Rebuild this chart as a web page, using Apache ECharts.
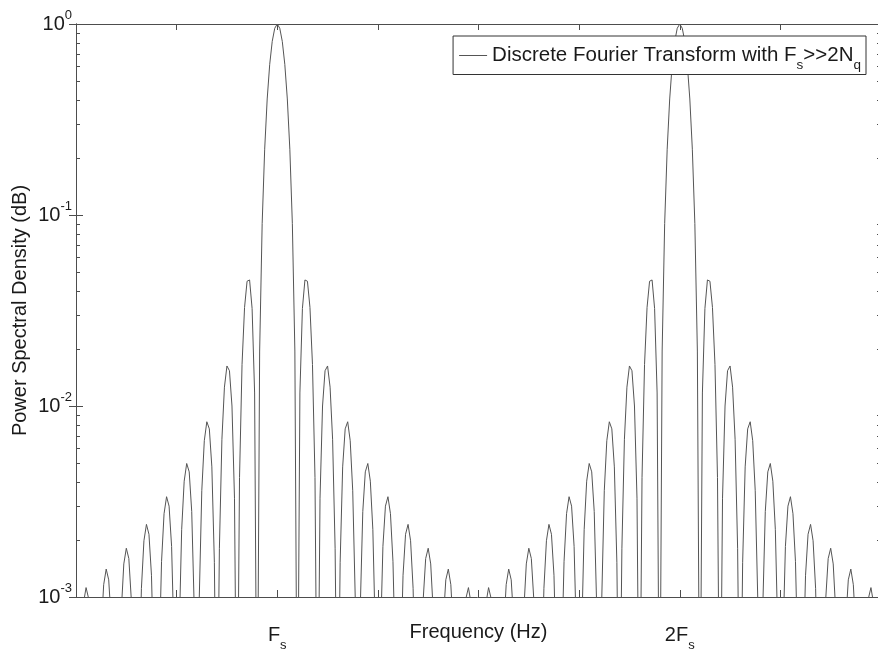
<!DOCTYPE html>
<html><head><meta charset="utf-8">
<script src="https://cdn.jsdelivr.net/npm/echarts@6/dist/echarts.min.js"></script>
<style>html,body{margin:0;padding:0;background:#fff}#c{width:878px;height:655px}</style>
</head><body><div id="c"></div>
<script>
// Frequency samples (axis units: Fs = 2, 2Fs = 6)
const freq = [
  0, 0.025, 0.05, 0.075, 0.1, 0.125, 0.15, 0.175,
  0.2, 0.225, 0.25, 0.275, 0.3, 0.325, 0.35, 0.375,
  0.4, 0.425, 0.45, 0.475, 0.5, 0.525, 0.55, 0.575,
  0.6, 0.625, 0.65, 0.675, 0.7, 0.725, 0.75, 0.775,
  0.8, 0.825, 0.85, 0.875, 0.9, 0.925, 0.95, 0.975,
  1.0, 1.025, 1.05, 1.075, 1.1, 1.125, 1.15, 1.175,
  1.2, 1.225, 1.25, 1.275, 1.3, 1.325, 1.35, 1.375,
  1.4, 1.425, 1.45, 1.475, 1.5, 1.525, 1.55, 1.575,
  1.6, 1.625, 1.65, 1.675, 1.7, 1.725, 1.75, 1.775,
  1.8, 1.825, 1.85, 1.875, 1.9, 1.925, 1.95, 1.975,
  2.0, 2.025, 2.05, 2.075, 2.1, 2.125, 2.15, 2.175,
  2.2, 2.225, 2.25, 2.275, 2.3, 2.325, 2.35, 2.375,
  2.4, 2.425, 2.45, 2.475, 2.5, 2.525, 2.55, 2.575,
  2.6, 2.625, 2.65, 2.675, 2.7, 2.725, 2.75, 2.775,
  2.8, 2.825, 2.85, 2.875, 2.9, 2.925, 2.95, 2.975,
  3.0, 3.025, 3.05, 3.075, 3.1, 3.125, 3.15, 3.175,
  3.2, 3.225, 3.25, 3.275, 3.3, 3.325, 3.35, 3.375,
  3.4, 3.425, 3.45, 3.475, 3.5, 3.525, 3.55, 3.575,
  3.6, 3.625, 3.65, 3.675, 3.7, 3.725, 3.75, 3.775,
  3.8, 3.825, 3.85, 3.875, 3.9, 3.925, 3.95, 3.975,
  4.0, 4.025, 4.05, 4.075, 4.1, 4.125, 4.15, 4.175,
  4.2, 4.225, 4.25, 4.275, 4.3, 4.325, 4.35, 4.375,
  4.4, 4.425, 4.45, 4.475, 4.5, 4.525, 4.55, 4.575,
  4.6, 4.625, 4.65, 4.675, 4.7, 4.725, 4.75, 4.775,
  4.8, 4.825, 4.85, 4.875, 4.9, 4.925, 4.95, 4.975,
  5.0, 5.025, 5.05, 5.075, 5.1, 5.125, 5.15, 5.175,
  5.2, 5.225, 5.25, 5.275, 5.3, 5.325, 5.35, 5.375,
  5.4, 5.425, 5.45, 5.475, 5.5, 5.525, 5.55, 5.575,
  5.6, 5.625, 5.65, 5.675, 5.7, 5.725, 5.75, 5.775,
  5.8, 5.825, 5.85, 5.875, 5.9, 5.925, 5.95, 5.975,
  6.0, 6.025, 6.05, 6.075, 6.1, 6.125, 6.15, 6.175,
  6.2, 6.225, 6.25, 6.275, 6.3, 6.325, 6.35, 6.375,
  6.4, 6.425, 6.45, 6.475, 6.5, 6.525, 6.55, 6.575,
  6.6, 6.625, 6.65, 6.675, 6.7, 6.725, 6.75, 6.775,
  6.8, 6.825, 6.85, 6.875, 6.9, 6.925, 6.95, 6.975,
  7.0, 7.025, 7.05, 7.075, 7.1, 7.125, 7.15, 7.175,
  7.2, 7.225, 7.25, 7.275, 7.3, 7.325, 7.35, 7.375,
  7.4, 7.425, 7.45, 7.475, 7.5, 7.525, 7.55, 7.575,
  7.6, 7.625, 7.65, 7.675, 7.7, 7.725, 7.75, 7.775,
  7.8, 7.825, 7.85, 7.875, 7.9, 7.925, 7.95, 7.975,
  8.0
];

// Power spectral density (nulls sit below the 1e-3 floor)
const psd = [
  1e-4, 0.000152, 0.000533, 0.000934, 0.00112, 0.000984, 0.000592, 0.000178,
  1e-4, 0.000188, 0.000662, 0.00116, 0.00140, 0.00123, 0.000744, 0.000225,
  1e-4, 0.000239, 0.000843, 0.00149, 0.00180, 0.00159, 0.000964, 0.000292,
  1e-4, 0.000314, 0.00111, 0.00197, 0.00240, 0.00213, 0.00130, 0.000396,
  1e-4, 0.000430, 0.00153, 0.00273, 0.00335, 0.00299, 0.00184, 0.000565,
  1e-4, 0.000624, 0.00225, 0.00404, 0.00500, 0.00452, 0.00280, 0.000872,
  1e-4, 0.000988, 0.00360, 0.00658, 0.00827, 0.00759, 0.00480, 0.00152,
  1e-4, 0.00180, 0.00670, 0.01255, 0.0162, 0.0153, 0.0100, 0.00329,
  1e-4, 0.00422, 0.0165, 0.0328, 0.0450, 0.0457, 0.0324, 0.0117,
  1e-4, 0.0194, 0.0901, 0.221, 0.405, 0.615, 0.811, 0.950,
  1, 0.950, 0.811, 0.615, 0.405, 0.221, 0.0901, 0.0194,
  1e-4, 0.0117, 0.0324, 0.0457, 0.0450, 0.0328, 0.0165, 0.00422,
  1e-4, 0.00329, 0.0100, 0.0153, 0.0162, 0.01255, 0.00670, 0.00180,
  1e-4, 0.00152, 0.00480, 0.00759, 0.00827, 0.00658, 0.00360, 0.000988,
  1e-4, 0.000872, 0.00280, 0.00452, 0.00500, 0.00404, 0.00225, 0.000624,
  1e-4, 0.000565, 0.00184, 0.00299, 0.00335, 0.00273, 0.00153, 0.000430,
  1e-4, 0.000396, 0.00130, 0.00213, 0.00240, 0.00197, 0.00111, 0.000314,
  1e-4, 0.000292, 0.000964, 0.00159, 0.00180, 0.00149, 0.000843, 0.000239,
  1e-4, 0.000225, 0.000744, 0.00123, 0.00140, 0.00116, 0.000662, 0.000188,
  1e-4, 0.000178, 0.000592, 0.000984, 0.00112, 0.000934, 0.000533, 0.000152,
  1e-4, 0.000152, 0.000533, 0.000934, 0.00112, 0.000984, 0.000592, 0.000178,
  1e-4, 0.000188, 0.000662, 0.00116, 0.00140, 0.00123, 0.000744, 0.000225,
  1e-4, 0.000239, 0.000843, 0.00149, 0.00180, 0.00159, 0.000964, 0.000292,
  1e-4, 0.000314, 0.00111, 0.00197, 0.00240, 0.00213, 0.00130, 0.000396,
  1e-4, 0.000430, 0.00153, 0.00273, 0.00335, 0.00299, 0.00184, 0.000565,
  1e-4, 0.000624, 0.00225, 0.00404, 0.00500, 0.00452, 0.00280, 0.000872,
  1e-4, 0.000988, 0.00360, 0.00658, 0.00827, 0.00759, 0.00480, 0.00152,
  1e-4, 0.00180, 0.00670, 0.01255, 0.0162, 0.0153, 0.0100, 0.00329,
  1e-4, 0.00422, 0.0165, 0.0328, 0.0450, 0.0457, 0.0324, 0.0117,
  1e-4, 0.0194, 0.0901, 0.221, 0.405, 0.615, 0.811, 0.950,
  1, 0.950, 0.811, 0.615, 0.405, 0.221, 0.0901, 0.0194,
  1e-4, 0.0117, 0.0324, 0.0457, 0.0450, 0.0328, 0.0165, 0.00422,
  1e-4, 0.00329, 0.0100, 0.0153, 0.0162, 0.01255, 0.00670, 0.00180,
  1e-4, 0.00152, 0.00480, 0.00759, 0.00827, 0.00658, 0.00360, 0.000988,
  1e-4, 0.000872, 0.00280, 0.00452, 0.00500, 0.00404, 0.00225, 0.000624,
  1e-4, 0.000565, 0.00184, 0.00299, 0.00335, 0.00273, 0.00153, 0.000430,
  1e-4, 0.000396, 0.00130, 0.00213, 0.00240, 0.00197, 0.00111, 0.000314,
  1e-4, 0.000292, 0.000964, 0.00159, 0.00180, 0.00149, 0.000843, 0.000239,
  1e-4, 0.000225, 0.000744, 0.00123, 0.00140, 0.00116, 0.000662, 0.000188,
  1e-4, 0.000178, 0.000592, 0.000984, 0.00112, 0.000934, 0.000533, 0.000152,
  1e-4
];

const xTickLabels = { 2: 'F{sub|s}', 6: '2F{sub|s}' };
const yMinorTicks = [0.002, 0.003, 0.004, 0.005, 0.006, 0.007, 0.008, 0.009,
                     0.02, 0.03, 0.04, 0.05, 0.06, 0.07, 0.08, 0.09,
                     0.2, 0.3, 0.4, 0.5, 0.6, 0.7, 0.8, 0.9];
const seriesName = 'Discrete Fourier Transform with Fs>>2Nq';
const legendLabel = 'Discrete Fourier Transform with F{sub|s}>>2N{sub|q}';
const xName = 'Frequency (Hz)';
const yName = 'Power Spectral Density (dB)';

const FONT = 'Liberation Sans, Arial, Helvetica, sans-serif';
const TXT = '#1a1a1a';
const AX = '#4d4d4d';

const chart = echarts.init(document.getElementById('c'), null, { renderer: 'canvas' });
const subStyle = { fontSize: 13, fontFamily: FONT, color: TXT, padding: [20, 0, 0, 0] };
const supStyle = { fontSize: 13, fontFamily: FONT, color: TXT, padding: [0, 0, 18, 0] };

chart.setOption({
  animation: false,
  backgroundColor: '#fff',
  grid: { left: 76, top: 24, width: 805, height: 573, containLabel: false, outerBoundsMode: 'none' },
  xAxis: [{
    type: 'value', position: 'bottom', min: 0, max: 8, interval: 1,
    name: xName, nameLocation: 'middle', nameGap: 25, nameMoveOverlap: false,
    nameTextStyle: { fontSize: 20, fontFamily: FONT, color: TXT },
    axisLine: { show: true, lineStyle: { color: AX, width: 1 } },
    axisTick: { show: true, inside: true, length: 7, lineStyle: { color: AX } },
    axisLabel: {
      show: true, margin: 22, fontSize: 20, fontFamily: FONT, color: TXT,
      formatter: v => xTickLabels[v] || '',
      rich: { sub: subStyle }
    },
    splitLine: { show: false }
  }, {
    type: 'value', position: 'top', min: 0, max: 8, interval: 1,
    axisLine: { show: true, lineStyle: { color: AX, width: 1 } },
    axisTick: { show: true, inside: true, length: 6, lineStyle: { color: AX } },
    axisLabel: { show: false },
    splitLine: { show: false }
  }],
  yAxis: [{
    type: 'log', logBase: 10, min: 0.001, max: 1, splitNumber: 3, position: 'left',
    name: yName, nameLocation: 'middle', nameGap: 46, nameRotate: 90, nameMoveOverlap: false,
    nameTextStyle: { fontSize: 20, fontFamily: FONT, color: TXT },
    axisLine: { show: true, lineStyle: { color: AX, width: 1 } },
    axisTick: { show: true, inside: true, length: 7, lineStyle: { color: AX } },
    axisLabel: {
      show: true, margin: 4, fontSize: 20, fontFamily: FONT, color: TXT,
      formatter: v => '10{sup|' + Math.round(Math.log10(v)) + '}',
      rich: { sup: supStyle }
    },
    splitLine: { show: false }
  }, {
    type: 'log', logBase: 10, min: 0.001, max: 1, splitNumber: 3, position: 'right',
    axisLine: { show: true, lineStyle: { color: AX, width: 1 } },
    axisTick: { show: true, inside: true, length: 7, lineStyle: { color: AX } },
    axisLabel: { show: false },
    splitLine: { show: false }
  }],
  legend: {
    data: [seriesName],
    right: 12, top: 36,
    backgroundColor: '#fff',
    borderColor: '#333', borderWidth: 1, borderRadius: 0,
    padding: [9, 5, 2, 6],
    icon: 'rect', itemWidth: 28, itemHeight: 1,
    itemStyle: { color: '#555' },
    textStyle: { fontSize: 20.5, fontFamily: FONT, color: TXT, rich: { sub: Object.assign({}, subStyle, { fontSize: 13.5 }) } },
    formatter: () => legendLabel
  },
  series: [{
    name: seriesName,
    type: 'line',
    xAxisIndex: 0, yAxisIndex: 0,
    data: freq.map((f, i) => [f, psd[i]]),
    symbol: 'none', showSymbol: false,
    lineStyle: { color: '#555', width: 1 },
    itemStyle: { color: '#555' },
    clip: true, z: 2
  }, {
    name: 'minorTicks',
    type: 'custom',
    xAxisIndex: 0, yAxisIndex: 0,
    silent: true, z: 3,
    data: yMinorTicks.map(v => [0, v]),
    renderItem: (params, api) => {
      const v = api.value(1);
      const pL = api.coord([0, v]);
      const pR = api.coord([8, v]);
      const y = Math.round(pL[1]) + 0.5;
      return {
        type: 'group',
        children: [
          { type: 'line', shape: { x1: pL[0], y1: y, x2: pL[0] + 4, y2: y }, style: { stroke: AX, lineWidth: 1 } },
          { type: 'line', shape: { x1: pR[0], y1: y, x2: pR[0] - 4, y2: y }, style: { stroke: AX, lineWidth: 1 } }
        ]
      };
    }
  }]
});
</script>
</body></html>
